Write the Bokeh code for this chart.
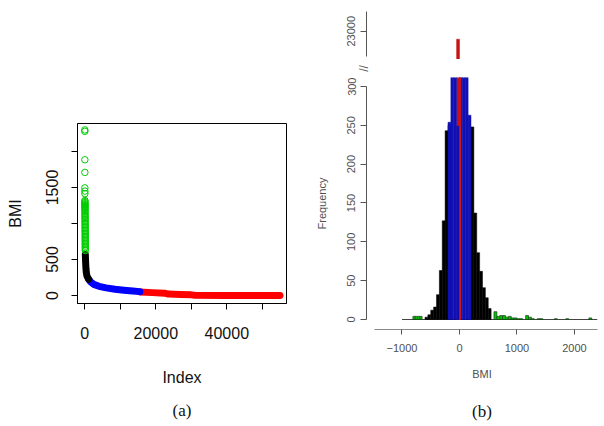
from math import pi
from bokeh.plotting import figure
from bokeh.models import Range1d, FixedTicker, LinearAxis
from bokeh.core.properties import value
from bokeh.layouts import row, column
from bokeh.embed import file_html
from bokeh.resources import INLINE

# ---------------- panel (a): sorted BMI vs index ----------------
green_idx = [2, 4, 8, 12, 16, 20, 24, 28, 31, 34, 37, 40, 43, 46, 49, 52, 55, 58, 61, 64,
             67, 70, 73, 76, 79, 82, 85, 88, 91, 94, 97, 100, 103, 106, 109, 112, 115, 118,
             121, 124, 127, 130, 133, 136, 139, 142]
green_bmi = [2300, 2280, 1885, 1710, 1495, 1450, 1415, 1320, 1305, 1290, 1275, 1262, 1250,
             1238, 1225, 1210, 1195, 1180, 1160, 1140, 1120, 1100, 1085, 1065, 1045, 1025,
             1005, 985, 965, 945, 925, 905, 885, 865, 845, 825, 805, 785, 765, 745, 725, 705,
             685, 665, 645, 625]
black_idx = [150, 200, 260, 330, 420, 560, 800, 1100]
black_bmi = [570, 500, 430, 370, 320, 280, 250, 225]
blue_idx = [1100, 1600, 2500, 4000, 6000, 8500, 11000, 13500, 15500]
blue_bmi = [225, 190, 155, 128, 106, 88, 74, 62, 54]
red_idx = [15500, 19000, 22500, 23500, 27000, 30000, 31000, 40000, 55000]
red_bmi = [50, 40, 32, 20, 14, 9, 3, 1, 0]

a_xticks = [0, 10000, 20000, 30000, 40000, 50000]
a_xlabels = ["0", "", "20000", "", "40000", ""]
a_yticks = [0, 500, 1000, 1500, 2000]
a_ylabels = ["0", "500", "", "1500", ""]

# ---------------- panel (b): histogram of BMI ----------------
black_edges = [-600, -550, -500, -450, -400, -350, -300, -250, -200, -150, -100, -50, 0,
               50, 100, 150, 200, 250, 300, 350, 400, 450, 500, 550]
black_counts = [3, 6, 12, 16, 32, 63, 127, 243, 250, 0, 0, 0, 0, 0, 0, 0, 248, 137, 86,
                62, 41, 28, 14]
blue_edges = [-200, -150, -100, -50, 0, 50, 100, 150, 200]
blue_counts = [254, 1350, 2480, 249, 3100, 2600, 1420, 263]
red_main_edges = [-50, 0]
red_main_counts = [22920]
red_line_edges = [0, 25]
red_line_counts = [3400]
green_left = [-810, -770, -730, -690, 600, 650, 700, 750, 800, 850, 900, 950, 1000, 1050,
              1150, 1200, 1250, 1350, 1400, 1650, 1850, 2250]
green_right = [-770, -730, -690, -650, 650, 700, 750, 800, 850, 900, 950, 1000, 1050, 1100,
               1200, 1250, 1300, 1400, 1450, 1700, 1900, 2300]
green_counts = [4, 4, 4, 4, 10, 4, 5, 5, 3, 4, 2, 2, 1, 1, 5, 3, 1, 1, 1, 1, 1, 2]
hist_span = [-1000, 2400]

b_xticks = [-1000, 0, 1000, 2000]
b_yticks_low = [0, 50, 100, 150, 200, 250, 300]
b_yticks_top = [23000]
break_mark = ["//"]

SANS = "Liberation Sans"
SERIF = "Liberation Serif"

# ---------------- figure (a) ----------------
pa = figure(width=300, height=426, x_range=Range1d(-2060, 56820), y_range=Range1d(-111, 2389),
            output_backend="svg", toolbar_location=None,
            min_border_left=77, min_border_right=14, min_border_top=123, min_border_bottom=123)
pa.grid.visible = False
pa.outline_line_color = "black"
pa.outline_line_alpha = 1.0
pa.outline_line_width = 1

pa.line(red_idx, red_bmi, line_width=7, line_color="#FF0000", line_cap="round", line_join="round")
pa.line(blue_idx, blue_bmi, line_width=7, line_color="#0000FF", line_cap="round", line_join="round")
pa.line(black_idx, black_bmi, line_width=7, line_color="#000000", line_cap="round", line_join="round")
pa.scatter(green_idx, green_bmi, marker="circle", size=6.5, fill_color=None,
           line_color="#00CD00", line_width=1)

def style_axis_a(ax):
    ax.major_label_text_font = SANS
    ax.major_label_text_font_size = "16px"
    ax.major_label_text_color = "#111111"
    ax.axis_label_text_font = SANS
    ax.axis_label_text_font_size = "16px"
    ax.axis_label_text_font_style = "normal"
    ax.axis_label_text_color = "#111111"
    ax.major_tick_out = 6
    ax.major_tick_in = 0
    ax.minor_tick_line_color = None
    ax.axis_line_color = "black"
    ax.major_tick_line_color = "black"

xa = pa.xaxis[0]
xa.ticker = FixedTicker(ticks=a_xticks)
xa.major_label_overrides = {t: l for t, l in zip(a_xticks, a_xlabels)}
xa.axis_label = "Index"
style_axis_a(xa)
xa.major_label_standoff = 17
xa.axis_label_standoff = 27

ya = pa.yaxis[0]
ya.ticker = FixedTicker(ticks=a_yticks)
ya.major_label_overrides = {t: l for t, l in zip(a_yticks, a_ylabels)}
ya.major_label_orientation = "vertical"
ya.axis_label = "BMI"
style_axis_a(ya)
ya.major_label_standoff = 13
ya.axis_label_standoff = 20

cap_a = LinearAxis(ticker=FixedTicker(ticks=[]), axis_line_color=None,
                   major_tick_line_color=None, minor_tick_line_color=None,
                   axis_label="(a)", axis_label_text_font=SERIF,
                   axis_label_text_font_size="17px", axis_label_text_font_style="normal",
                   axis_label_text_color="#111111", axis_label_standoff=12)
pa.add_layout(cap_a, "below")

# ---------------- figure (b) ----------------
xr_b = Range1d(-1617, 2400)

def draw_hist(p):
    p.segment(x0=[hist_span[0]], y0=[0], x1=[hist_span[1]], y1=[0],
              line_color="#444444", line_width=1.2)
    p.quad(left=black_edges[:-1], right=black_edges[1:], bottom=0, top=black_counts,
           fill_color="#000000", line_color="#000000", line_width=0.5)
    p.quad(left=red_main_edges[:-1], right=red_main_edges[1:], bottom=0, top=red_main_counts,
           fill_color="#C81414", line_color="#C81414", line_width=0.5)
    p.quad(left=blue_edges[:-1], right=blue_edges[1:], bottom=0, top=blue_counts,
           fill_color="#1010B4", line_color="#1010B4", line_width=0.5)
    p.quad(left=red_line_edges[:-1], right=red_line_edges[1:], bottom=0, top=red_line_counts,
           fill_color="#D01818", line_color="#D01818", line_width=0.5)
    p.quad(left=green_left, right=green_right, bottom=0, top=green_counts,
           fill_color="#00C800", line_color="#1a3a1a", line_width=0.7)

def style_axis_b(ax):
    ax.major_label_text_font = SANS
    ax.major_label_text_font_size = "11px"
    ax.major_label_text_color = "#505050"
    ax.axis_label_text_font = SANS
    ax.axis_label_text_font_size = "11px"
    ax.axis_label_text_font_style = "normal"
    ax.axis_label_text_color = "#505050"
    ax.major_tick_in = 0
    ax.minor_tick_line_color = None
    ax.major_tick_line_color = "#555555"

# upper (broken) segment of the frequency axis
pt = figure(width=304, height=59, x_range=xr_b, y_range=Range1d(22717, 23307),
            output_backend="svg", toolbar_location=None,
            min_border_left=66, min_border_right=7, min_border_top=0, min_border_bottom=0)
pt.grid.visible = False
pt.outline_line_color = None
pt.xaxis.visible = False
draw_hist(pt)
yt = pt.yaxis[0]
yt.ticker = FixedTicker(ticks=b_yticks_top)
yt.bounds = (22750, 23200)
yt.major_label_orientation = "vertical"
style_axis_b(yt)
yt.axis_line_color = "#555555"
yt.major_tick_out = 6
yt.major_label_standoff = 5

# thin strip holding the axis-break mark
pm = figure(width=304, height=18, x_range=Range1d(0, 304), y_range=Range1d(0, 18),
            output_backend="svg", toolbar_location=None, frame_align=False,
            min_border_left=0, min_border_right=0, min_border_top=0, min_border_bottom=0)
pm.axis.visible = False
pm.grid.visible = False
pm.outline_line_color = None
pm.text(x=[63], y=[9], text=break_mark, angle=pi / 2, text_align="center",
        text_baseline="middle", text_font=value(SANS), text_font_size="12px",
        text_color="#555555")

# lower segment
pb = figure(width=304, height=349, x_range=xr_b, y_range=Range1d(-12.9, 311.6),
            output_backend="svg", toolbar_location=None,
            min_border_left=66, min_border_right=7, min_border_top=0, min_border_bottom=97)
pb.grid.visible = False
pb.outline_line_color = None
draw_hist(pb)

xb = pb.xaxis[0]
xb.ticker = FixedTicker(ticks=b_xticks)
xb.bounds = (-1480, 2400)
xb.axis_label = "BMI"
style_axis_b(xb)
xb.axis_line_color = "#8a8a8a"
xb.major_tick_out = 5
xb.major_label_standoff = 9
xb.axis_label_standoff = 13

yb = pb.yaxis[0]
yb.ticker = FixedTicker(ticks=b_yticks_low)
yb.bounds = (0, 300)
yb.major_label_orientation = "vertical"
yb.axis_label = "Frequency"
style_axis_b(yb)
yb.axis_line_color = "#555555"
yb.major_tick_out = 6
yb.major_label_standoff = 5
yb.axis_label_standoff = 17

cap_b = LinearAxis(ticker=FixedTicker(ticks=[]), axis_line_color=None,
                   major_tick_line_color=None, minor_tick_line_color=None,
                   axis_label="(b)", axis_label_text_font=SERIF,
                   axis_label_text_font_size="17px", axis_label_text_font_style="normal",
                   axis_label_text_color="#111111", axis_label_standoff=19)
pb.add_layout(cap_b, "below")

layout = row(pa, column(pt, pm, pb))
open("out.html", "w").write(file_html(layout, INLINE))
